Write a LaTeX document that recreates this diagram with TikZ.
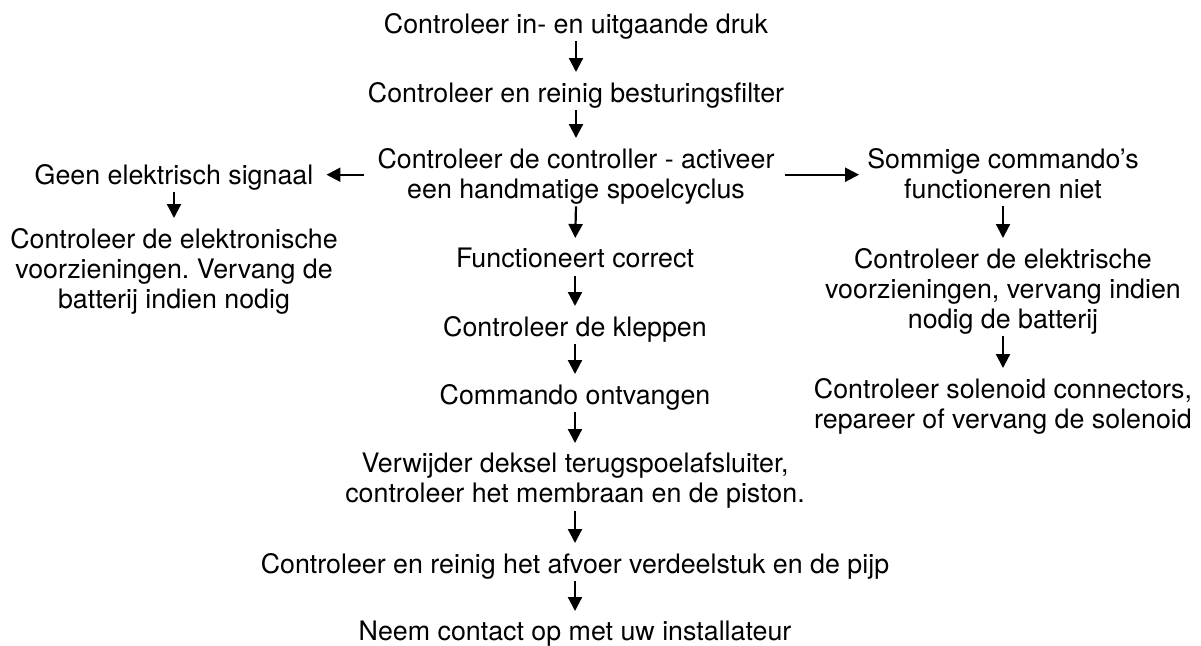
\documentclass[tikz,border=0pt]{standalone}
\usepackage{fontspec}
\setmainfont{TeX Gyre Heros}
\usetikzlibrary{arrows.meta}
\tikzset{
  txt/.style={anchor=north, inner sep=0pt, align=center,
    font=\fontsize{26.8}{30}\selectfont,
    execute at begin node=\rule{0pt}{19pt},
    execute at end node=\rule[-7pt]{0pt}{7pt}},
  arr/.style={line width=2.2pt, -{Triangle[width=14pt,length=14pt]}, shorten >=10pt, shorten <=1pt},
  harr/.style={line width=2.2pt, -{Triangle[width=14pt,length=14pt]}}
}
\begin{document}
\frenchspacing
\begin{tikzpicture}[x=1pt,y=-1pt]
\path[use as bounding box] (0,0) rectangle (1201,645);
% centre column
\node[txt] (n1) at (576,13) {Controleer in- en uitgaande druk};
\node[txt] (n2) at (576,82) {Controleer en reinig besturingsfilter};
\node[txt] (n3) at (576,148) {Controleer de controller - activeer\\een handmatige spoelcyclus};
\node[txt] (func) at (575,248) {Functioneert correct};
\node[txt] (klep) at (575,316) {Controleer de kleppen};
\node[txt] (cmd) at (575,384) {Commando ontvangen};
\node[txt] (verw) at (575,453) {Verwijder deksel terugspoelafsluiter,\\controleer het membraan en de piston.};
\node[txt] (afv) at (575,553) {Controleer en reinig het afvoer verdeelstuk en de pijp};
\node[txt] (neem) at (575,621) {Neem contact op met uw installateur};
% left column
\node[txt] (geen) at (174,164) {Geen elektrisch signaal};
\node[txt] (elek) at (174,228) {Controleer de elektronische\\voorzieningen. Vervang de\\batterij indien nodig};
% right column
\node[txt] (som) at (1003,148) {Sommige commando’s\\functioneren niet};
\node[txt] (elek2) at (1003,248) {Controleer de elektrische\\voorzieningen, vervang indien\\nodig de batterij};
\node[txt] (sol) at (1003,378) {Controleer solenoid connectors,\\repareer of vervang de solenoid};
% connectors
\draw[arr] (n1.south) -- (n2.north);
\draw[arr] (n2.south) -- (n3.north);
\draw[arr] (n3.south) -- (func.north);
\draw[arr] (func.south) -- (klep.north);
\draw[arr] (klep.south) -- (cmd.north);
\draw[arr] (cmd.south) -- (verw.north);
\draw[arr] (verw.south) -- (afv.north);
\draw[arr] (afv.south) -- (neem.north);
\draw[arr] (geen.south) -- (elek.north);
\draw[arr] (som.south) -- (elek2.north);
\draw[arr] (elek2.south) -- (sol.north);
\draw[harr, shorten <=13pt, shorten >=13pt] ([yshift=2pt]n3.west) -- ([yshift=2pt]n3.west -| geen.east);
\draw[harr, shorten <=10pt, shorten >=8pt] ([yshift=2pt]n3.east) -- ([yshift=2pt]n3.east -| som.west);
\end{tikzpicture}
\end{document}
